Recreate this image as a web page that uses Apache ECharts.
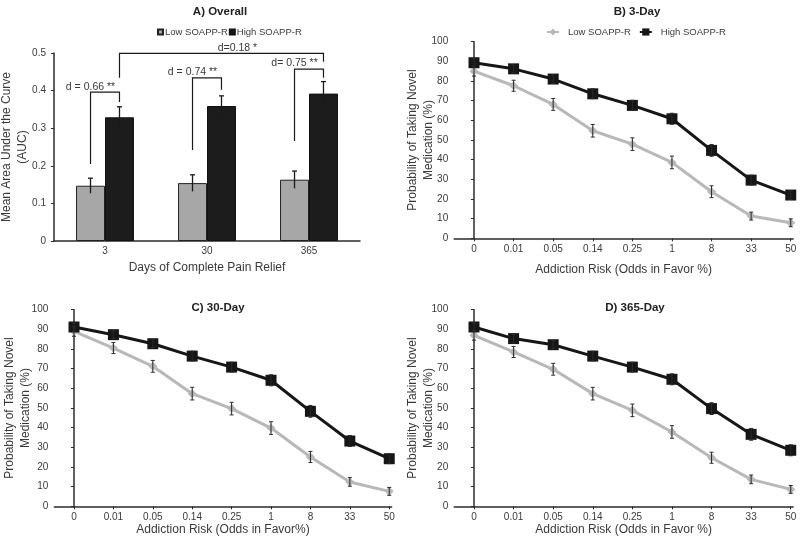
<!DOCTYPE html>
<html><head><meta charset="utf-8">
<script src="https://cdn.jsdelivr.net/npm/echarts@6/dist/echarts.min.js"></script>
<style>html,body{margin:0;padding:0;background:#fff}#c{width:800px;height:544px}</style>
</head><body><div id="c"></div>
<script>
// ---------- Panel A data ----------
const barCategories = ['3', '30', '365'];
const barLow = [0.147, 0.154, 0.163];
const barHigh = [0.329, 0.359, 0.392];
const barLowErr = [0.020, 0.022, 0.023];
const barHighErr = [0.028, 0.027, 0.032];
// brackets: [leftCat, leftSide(-1 low,+1 high), leftBottom, top, rightCat, rightSide, rightBottom]
const brackets = [
  [0, -1, 0.205, 0.396, 0, 1, 0.370],
  [1, -1, 0.242, 0.434, 1, 1, 0.402],
  [2, -1, 0.266, 0.457, 2, 1, 0.434],
  [0, 1, 0.434, 0.499, 2, 1, 0.477]
];
const bracketLabels = ['d = 0.66 **', 'd = 0.74 **', 'd= 0.75 **', 'd=0.18 *'];
// label anchor: [cat, side (half-bar units), value]
const bracketLabelPos = [[0, -1, 0.410], [1, -1, 0.449], [2, -1, 0.473], [1, 2.1, 0.512]];

// ---------- Panels B-D data ----------
const riskCategories = ['0', '0.01', '0.05', '0.14', '0.25', '1', '8', '33', '50'];
const day3Low  = [85.0, 77.6, 68.1, 54.7, 47.9, 38.6, 23.7, 11.3, 7.9];
const day3High = [89.3, 86.2, 81.0, 73.5, 67.6, 60.8, 44.7, 29.6, 22.0];
const day3LowErr  = [2.5, 2.8, 3.0, 3.2, 3.2, 3.2, 3.0, 2.0, 2.0];
const day3HighErr = [2.0, 2.0, 2.2, 2.5, 2.6, 2.8, 3.0, 2.5, 2.2];
const day30Low  = [89.0, 80.5, 71.2, 57.3, 49.7, 39.8, 25.1, 12.4, 7.6];
const day30High = [91.2, 87.3, 82.7, 76.4, 70.8, 64.1, 48.3, 33.2, 24.2];
const day30LowErr  = [2.5, 2.8, 3.0, 3.2, 3.2, 3.2, 2.8, 2.2, 2.0];
const day30HighErr = [2.0, 2.0, 2.0, 2.5, 2.5, 2.8, 3.0, 2.8, 2.5];
const day365Low  = [87.0, 78.5, 69.7, 57.3, 48.8, 37.8, 24.7, 13.7, 8.6];
const day365High = [91.2, 85.3, 82.2, 76.4, 70.8, 64.6, 49.7, 36.6, 28.5];
const day365LowErr  = [2.5, 2.8, 3.0, 3.2, 3.2, 3.2, 2.8, 2.2, 2.0];
const day365HighErr = [2.0, 2.2, 2.0, 2.5, 2.5, 2.8, 3.0, 3.0, 2.8];

// ---------- styles ----------
const FONT = "'Liberation Sans', Arial, sans-serif";
const BAR_FRAC = 0.284;
const GRAY_BAR = '#a7a7a7', BLACK_BAR = '#1c1c1c';
const GRAY_LINE = '#b8b8b8', BLACK_LINE = '#161616';
const AX = '#2b2b2b', TXT = '#3a3a3a';

const chart = echarts.init(document.getElementById('c'), null, {renderer: 'canvas'});

function lineYAxis(gi, gap) {
  return {
    gridIndex: gi, type: 'value', min: 0, max: 100, interval: 10,
    name: 'Probability of Taking Novel\nMedication (%)', nameLocation: 'middle', nameGap: gap,
    nameMoveOverlap: false,
    nameTextStyle: {fontFamily: FONT, fontSize: 12, color: TXT, lineHeight: 16},
    axisLine: {show: true, lineStyle: {color: AX, width: 1.5}},
    axisTick: {show: true, length: 3, lineStyle: {color: AX}},
    axisLabel: {fontFamily: FONT, fontSize: 10, color: TXT, margin: 6},
    splitLine: {show: false}
  };
}
function lineXAxis(gi, name, gap) {
  const idx = riskCategories.map((c, i) => i);
  return {
    gridIndex: gi, type: 'value', min: -0.5, max: 8.06,
    name: name, nameLocation: 'middle', nameGap: gap,
    nameTextStyle: {fontFamily: FONT, fontSize: 12, color: TXT, verticalAlign: 'top'},
    axisLine: {show: true, lineStyle: {color: AX, width: 1.5}},
    axisTick: {show: true, length: 3, customValues: idx, lineStyle: {color: AX}},
    axisLabel: {fontFamily: FONT, fontSize: 10, color: TXT, margin: 6, customValues: idx,
      formatter: v => riskCategories[Math.round(v)]},
    splitLine: {show: false}
  };
}
function errRender(params, api) {
  const x = api.value(0), lo = api.value(1), hi = api.value(2);
  const p1 = api.coord([x, hi]), p2 = api.coord([x, lo]);
  const w = 2, st = {stroke: '#2a2a2a', lineWidth: 1};
  return {type: 'group', children: [
    {type: 'line', shape: {x1: p1[0], y1: p1[1], x2: p2[0], y2: p2[1]}, style: st},
    {type: 'line', shape: {x1: p1[0] - w, y1: p1[1], x2: p1[0] + w, y2: p1[1]}, style: st},
    {type: 'line', shape: {x1: p2[0] - w, y1: p2[1], x2: p2[0] + w, y2: p2[1]}, style: st}
  ]};
}
function lineSeries(gi, suffix, low, high, lowErr, highErr) {
  return [
    {type: 'line', name: 'Low SOAPP-R' + suffix, xAxisIndex: gi, yAxisIndex: gi,
      data: low.map((v, i) => [i, v]), symbol: 'diamond', symbolSize: 9,
      itemStyle: {color: GRAY_LINE}, lineStyle: {color: GRAY_LINE, width: 3}, z: 2},
    {type: 'line', name: 'High SOAPP-R' + suffix, xAxisIndex: gi, yAxisIndex: gi,
      data: high.map((v, i) => [i, v]), symbol: 'rect', symbolSize: 11,
      itemStyle: {color: BLACK_LINE}, lineStyle: {color: BLACK_LINE, width: 3}, z: 3},
    {type: 'custom', xAxisIndex: gi, yAxisIndex: gi, renderItem: errRender, z: 4, silent: true,
      data: low.map((v, i) => [i, v - lowErr[i], v + lowErr[i]])},
    {type: 'custom', xAxisIndex: gi, yAxisIndex: gi, renderItem: errRender, z: 4, silent: true,
      data: high.map((v, i) => [i, v - highErr[i], v + highErr[i]])}
  ];
}

const barErrData = [];
barLow.forEach((v, i) => barErrData.push([i, v, -1, barLowErr[i]]));
barHigh.forEach((v, i) => barErrData.push([i, v, 1, barHighErr[i]]));

const titleStyle = {fontFamily: FONT, fontSize: 11.5, fontWeight: 'bold', color: '#222'};
const option = {
  animation: false,
  backgroundColor: '#fff',
  title: [
    {text: 'A) Overall', left: 215, top: 1, textAlign: 'center', textStyle: titleStyle},
    {text: 'B) 3-Day', left: 632, top: 1, textAlign: 'center', textStyle: titleStyle},
    {text: 'C) 30-Day', left: 213, top: 297, textAlign: 'center', textStyle: titleStyle},
    {text: 'D) 365-Day', left: 630, top: 297, textAlign: 'center', textStyle: titleStyle}
  ],
  legend: [
    {left: 152, top: 22, itemWidth: 5, itemHeight: 5, itemGap: 1, icon: 'rect',
      textStyle: {fontFamily: FONT, fontSize: 9.5, color: TXT, padding: [0, 0, 0, -3]},
      data: ['Low SOAPP-R', 'High SOAPP-R']},
    {left: 541, top: 22, itemWidth: 12, itemHeight: 9, itemGap: 8,
      textStyle: {fontFamily: FONT, fontSize: 9.5, color: TXT, padding: [0, 0, 0, 4]},
      formatter: n => n.replace(' (3-Day)', ''),
      data: ['Low SOAPP-R (3-Day)', 'High SOAPP-R (3-Day)']}
  ],
  grid: [
    {left: 54, top: 53, width: 306, height: 188, outerBoundsMode: 'none', containLabel: false},
    {left: 454.2, top: 41.7, width: 338.9, height: 196.6, outerBoundsMode: 'none', containLabel: false},
    {left: 54.3, top: 309.7, width: 337.3, height: 196.6, outerBoundsMode: 'none', containLabel: false},
    {left: 454.2, top: 309.7, width: 338.9, height: 196.6, outerBoundsMode: 'none', containLabel: false}
  ],
  xAxis: [
    {gridIndex: 0, type: 'category', data: barCategories,
      name: 'Days of Complete Pain Relief', nameLocation: 'middle', nameGap: 21,
      nameTextStyle: {fontFamily: FONT, fontSize: 12, color: TXT, verticalAlign: 'top'},
      axisLine: {lineStyle: {color: AX, width: 1.5}}, axisTick: {show: false},
      axisLabel: {fontFamily: FONT, fontSize: 10, color: TXT, margin: 5}},
    lineXAxis(1, 'Addiction Risk (Odds in Favor %)', 25),
    lineXAxis(2, 'Addiction Risk (Odds in Favor%)', 15),
    lineXAxis(3, 'Addiction Risk (Odds in Favor %)', 15)
  ],
  yAxis: [
    {gridIndex: 0, type: 'value', min: 0, max: 0.5, interval: 0.1,
      name: 'Mean Area Under the Curve\n(AUC)', nameLocation: 'middle', nameGap: 23,
      nameMoveOverlap: false,
      nameTextStyle: {fontFamily: FONT, fontSize: 12, color: TXT, lineHeight: 16},
      axisLine: {show: true, lineStyle: {color: AX, width: 1.5}},
      axisTick: {show: true, length: 3, lineStyle: {color: AX}},
      axisLabel: {fontFamily: FONT, fontSize: 10, color: TXT, margin: 8},
      splitLine: {show: false}},
    lineYAxis(1, 18), lineYAxis(2, 21), lineYAxis(3, 18)
  ],
  series: [
    {type: 'bar', name: 'Low SOAPP-R', xAxisIndex: 0, yAxisIndex: 0, data: barLow,
      barWidth: (BAR_FRAC * 100) + '%', barGap: '0%',
      itemStyle: {color: GRAY_BAR, borderColor: '#222', borderWidth: 1}},
    {type: 'bar', name: 'High SOAPP-R', xAxisIndex: 0, yAxisIndex: 0, data: barHigh,
      barWidth: (BAR_FRAC * 100) + '%', barGap: '0%',
      itemStyle: {color: BLACK_BAR, borderColor: '#111', borderWidth: 1}},
    {type: 'custom', xAxisIndex: 0, yAxisIndex: 0, z: 5, silent: true,
      data: barErrData.map(d => [d[0], d[1]]),
      renderItem: function (params, api) {
        const d = barErrData[params.dataIndex];
        const bw = api.size([1, 0])[0];
        const off = d[2] * bw * BAR_FRAC / 2;
        const pTop = api.coord([d[0], d[1] + d[3]]);
        const pBot = api.coord([d[0], d[1] - d[3]]);
        const x = pTop[0] + off, w = 2.5, st = {stroke: '#1a1a1a', lineWidth: 1.3};
        return {type: 'group', children: [
          {type: 'line', shape: {x1: x, y1: pTop[1], x2: x, y2: pBot[1]}, style: st},
          {type: 'line', shape: {x1: x - w, y1: pTop[1], x2: x + w, y2: pTop[1]}, style: st}
        ]};
      }},
    {type: 'custom', xAxisIndex: 0, yAxisIndex: 0, z: 5, silent: true,
      data: brackets.map(b => [b[0], b[3]]),
      renderItem: function (params, api) {
        const b = brackets[params.dataIndex];
        const bw = api.size([1, 0])[0];
        const half = bw * BAR_FRAC / 2;
        const l1 = api.coord([b[0], b[2]]), l2 = api.coord([b[0], b[3]]);
        const r2 = api.coord([b[4], b[3]]), r1 = api.coord([b[4], b[6]]);
        const xl = l1[0] + b[1] * half, xr = r1[0] + b[5] * half;
        return {type: 'polyline', shape: {points: [[xl, l1[1]], [xl, l2[1]], [xr, r2[1]], [xr, r1[1]]]},
          style: {stroke: '#1a1a1a', lineWidth: 1.2, fill: null}};
      }},
    {type: 'custom', xAxisIndex: 0, yAxisIndex: 0, z: 6, silent: true,
      data: bracketLabelPos.map(p => [p[0], p[2]]),
      renderItem: function (params, api) {
        const p = bracketLabelPos[params.dataIndex];
        const bw = api.size([1, 0])[0];
        const pt = api.coord([p[0], p[2]]);
        return {type: 'text', x: pt[0] + p[1] * bw * BAR_FRAC / 2, y: pt[1],
          style: {text: bracketLabels[params.dataIndex], fill: TXT,
            align: 'center', verticalAlign: 'middle', fontFamily: FONT, fontSize: 10.5}};
      }},
    ...lineSeries(1, ' (3-Day)', day3Low, day3High, day3LowErr, day3HighErr),
    ...lineSeries(2, ' (30-Day)', day30Low, day30High, day30LowErr, day30HighErr),
    ...lineSeries(3, ' (365-Day)', day365Low, day365High, day365LowErr, day365HighErr)
  ]
};
chart.setOption(option);
</script>
</body></html>
